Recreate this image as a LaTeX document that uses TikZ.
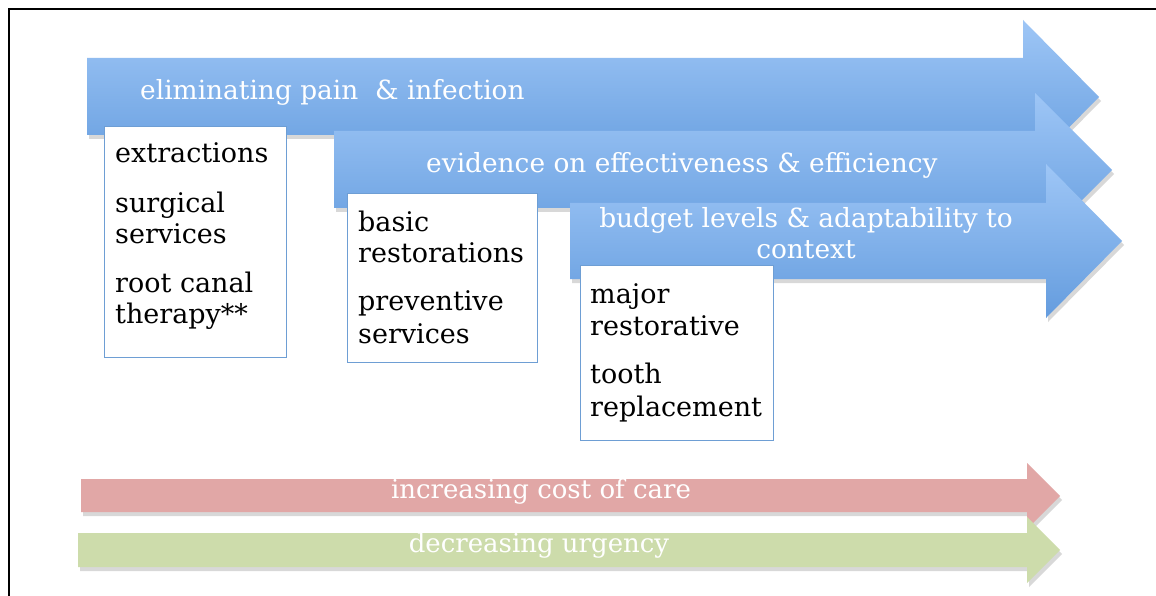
\documentclass[tikz,border=0pt]{standalone}
\usepackage{fontspec}
\setmainfont{DejaVu Serif}
\usetikzlibrary{shadows}
\definecolor{btop}{RGB}{158,198,246}
\definecolor{bbot}{RGB}{100,156,222}
\definecolor{boxline}{RGB}{110,158,212}
\definecolor{redarr}{RGB}{225,167,166}
\definecolor{grnarr}{RGB}{205,220,171}
\tikzset{
  bluearrow/.style={top color=btop, bottom color=bbot, draw=none,
    drop shadow={opacity=0.3, shadow xshift=2pt, shadow yshift=-4pt}},
  flatarrow/.style={fill=#1, draw=none,
    drop shadow={opacity=0.3, shadow xshift=2pt, shadow yshift=-4pt}},
  boxst/.style={draw=boxline, line width=1.3pt, fill=white, inner sep=0pt, anchor=north west},
  boxtext/.style={inner sep=0pt, anchor=base west, text=black, font=\fontsize{27}{31}\selectfont},
  titletext/.style={inner sep=0pt, text=white, font=\fontsize{26.4}{31}\selectfont},
  bottomtext/.style={inner sep=0pt, anchor=base, text=white, font=\fontsize{26}{29}\selectfont}
}
\begin{document}
\begin{tikzpicture}[x=1pt,y=-1pt]
\useasboundingbox (0,0) rectangle (1156,596);
\fill[white] (0,0) rectangle (1156,596);
\draw[line width=2.4pt] (9,596) -- (9,9) -- (1156,9);

% arrow 1
\path[bluearrow] (87,58) -- (1023,58) -- (1023,20) -- (1099,97) -- (1023,174) -- (1023,135) -- (87,135) -- cycle;
\node[titletext, anchor=base west] (a1t) at (140,100) {eliminating pain \ \& infection};
\node[boxst, minimum width=182pt, minimum height=231pt] (b1) at (104,126) {};
\node[boxtext] (b1l1) at (115,163) {extractions};
\node[boxtext] (b1l2) at (115,212) {surgical};
\node[boxtext] (b1l3) at (115,243) {services};
\node[boxtext] (b1l4) at (115,292) {root canal};
\node[boxtext] (b1l5) at (115,323) {therapy**};

% arrow 2
\path[bluearrow] (334,131) -- (1035,131) -- (1035,93) -- (1112,170) -- (1035,247) -- (1035,208) -- (334,208) -- cycle;
\node[titletext, anchor=base west] (a2t) at (426,173) {evidence on effectiveness \& efficiency};
\node[boxst, minimum width=190pt, minimum height=169pt] (b2) at (347,193) {};
\node[boxtext] (b2l1) at (358,231) {basic};
\node[boxtext] (b2l2) at (358,262) {restorations};
\node[boxtext] (b2l3) at (358,310) {preventive};
\node[boxtext] (b2l4) at (358,343) {services};

% arrow 3
\path[bluearrow] (570,203) -- (1046,203) -- (1046,164) -- (1122,241) -- (1046,318) -- (1046,279) -- (570,279) -- cycle;
\node[titletext, anchor=base] (a3t1) at (806,227) {budget levels \& adaptability to};
\node[titletext, anchor=base] (a3t2) at (806,258) {context};
\node[boxst, minimum width=193pt, minimum height=175pt] (b3) at (580,265) {};
\node[boxtext] (b3l1) at (590,303) {major};
\node[boxtext] (b3l2) at (590,335) {restorative};
\node[boxtext] (b3l3) at (590,383) {tooth};
\node[boxtext] (b3l4) at (590,416) {replacement};

% bottom arrows
\path[flatarrow=redarr] (81,479) -- (1027,479) -- (1027,463) -- (1060,496) -- (1027,529) -- (1027,512) -- (81,512) -- cycle;
\node[bottomtext] (rt) at (541,498) {increasing cost of care};
\path[flatarrow=grnarr] (78,533) -- (1027,533) -- (1027,517) -- (1060,550) -- (1027,583) -- (1027,567) -- (78,567) -- cycle;
\node[bottomtext] (gt) at (539,552) {decreasing urgency};
\end{tikzpicture}
\end{document}
